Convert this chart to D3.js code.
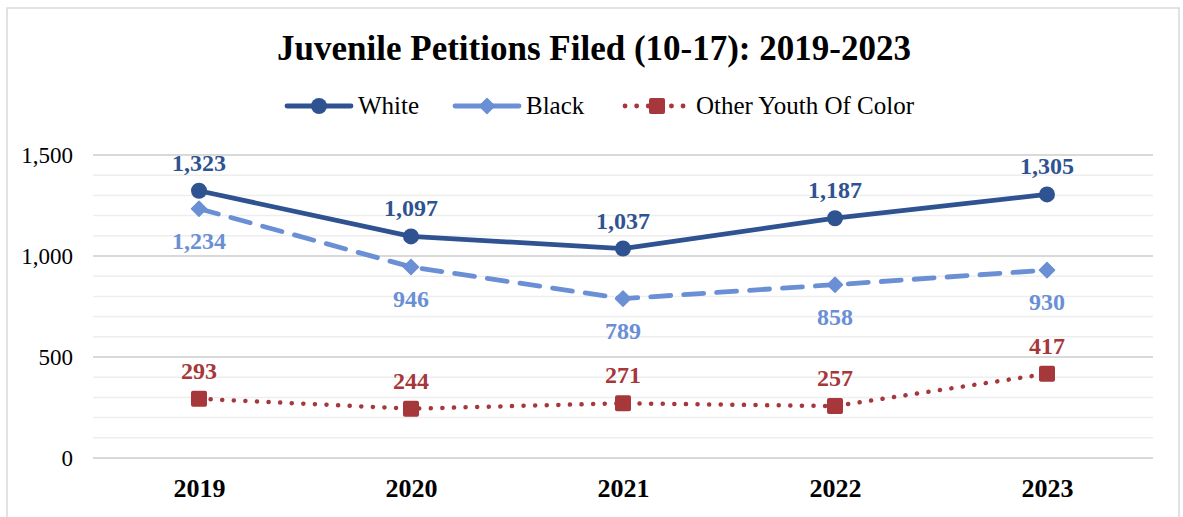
<!DOCTYPE html>
<html lang="en">
<head>
<meta charset="utf-8">
<title>Juvenile Petitions Filed</title>
<script src="https://cdn.jsdelivr.net/npm/d3@7"></script>
<style>
  body { margin: 0; background: #fff; }
  svg text { font-family: "Liberation Serif", "Times New Roman", serif !important; }
</style>
</head>
<body>
<script>
// chart data
var years = ["2019", "2020", "2021", "2022", "2023"];
var whiteVals = [1323, 1097, 1037, 1187, 1305];
var blackVals = [1234, 946, 789, 858, 930];
var otherVals = [293, 244, 271, 257, 417];
var yTicks = [0, 500, 1000, 1500];

var W = 1183, H = 517;
var m = { left: 93, right: 1153, top: 155, bottom: 458 };
var serif = "'Liberation Serif', 'Times New Roman', serif";

var svg = d3.select("body").append("svg")
  .attr("width", W).attr("height", H);

// frame
svg.append("rect")
  .attr("x", 7).attr("y", 8).attr("width", 1172).attr("height", 512)
  .attr("fill", "#fff").attr("stroke", "#d9d9d9").attr("stroke-width", 1.5);

var x = d3.scalePoint().domain(years).range([m.left, m.right]).padding(0.5);
var y = d3.scaleLinear().domain([0, 1500]).range([m.bottom, m.top]);

// gridlines, minor every 100
svg.append("g").selectAll("line")
  .data(d3.range(0, 1501, 100))
  .join("line")
  .attr("x1", m.left).attr("x2", m.right)
  .attr("y1", d => y(d)).attr("y2", d => y(d))
  .attr("stroke", d => d % 500 === 0 ? "#d9d9d9" : "#eeeeee")
  .attr("stroke-width", d => d % 500 === 0 ? 1.8 : 1.5);

var fmt = d3.format(",");

// y axis labels
var yAxis = d3.axisLeft(y).tickValues(yTicks).tickFormat(fmt).tickSize(0).tickPadding(20);
svg.append("g")
  .attr("transform", "translate(" + m.left + ",0)")
  .call(yAxis)
  .attr("font-family", serif)
  .call(g => g.select(".domain").remove())
  .selectAll("text")
  .style("font-family", serif)
  .style("font-size", "23px")
  .attr("fill", "#000");

// x axis labels
var xAxis = d3.axisBottom(x).tickSize(0).tickPadding(21);
svg.append("g")
  .attr("transform", "translate(0," + m.bottom + ")")
  .call(xAxis)
  .attr("font-family", serif)
  .call(g => g.select(".domain").remove())
  .selectAll("text")
  .style("font-family", serif)
  .style("font-size", "26px")
  .style("font-weight", "bold")
  .attr("fill", "#000");

var series = [
  { name: "White", vals: whiteVals, color: "#2f5391", dash: null, marker: "circle", labelPos: "above" },
  { name: "Black", vals: blackVals, color: "#6a8fd5", dash: "20,13", marker: "diamond", labelPos: "below" },
  { name: "Other Youth Of Color", vals: otherVals, color: "#a6373a", dash: "0.1,11.5", marker: "square", labelPos: "above" }
];

var line = d3.line().x((d, i) => x(years[i])).y(d => y(d));

function drawMarker(g, type, color) {
  if (type === "circle") {
    g.append("circle").attr("r", 8).attr("fill", color);
  } else if (type === "diamond") {
    g.append("path").attr("d", "M0,-7.5L7.5,0L0,7.5L-7.5,0Z").attr("fill", color)
      .attr("stroke", color).attr("stroke-width", 1.5).attr("stroke-linejoin", "round");
  } else {
    g.append("rect").attr("x", -8).attr("y", -8).attr("width", 16).attr("height", 16)
      .attr("rx", 2).attr("fill", color);
  }
}

series.forEach(function(s) {
  svg.append("path")
    .datum(s.vals)
    .attr("d", line)
    .attr("fill", "none")
    .attr("stroke", s.color)
    .attr("stroke-width", s.marker === "square" ? 4.5 : 4.8)
    .attr("stroke-linecap", "round")
    .attr("stroke-linejoin", "round")
    .attr("stroke-dasharray", s.dash);

  s.vals.forEach(function(v, i) {
    var g = svg.append("g").attr("transform", "translate(" + x(years[i]) + "," + y(v) + ")");
    drawMarker(g, s.marker, s.color);
  });

  svg.append("g").selectAll("text")
    .data(s.vals)
    .join("text")
    .attr("x", (d, i) => x(years[i]))
    .attr("y", d => s.labelPos === "above" ? y(d) - 20 : y(d) + 40)
    .attr("text-anchor", "middle")
    .attr("fill", s.color)
    .style("font-family", serif)
    .style("font-size", "24px")
    .style("font-weight", "bold")
    .text(d => fmt(d));
});

// title
svg.append("text")
  .attr("x", 594).attr("y", 60)
  .attr("text-anchor", "middle")
  .style("font-family", serif)
  .style("font-size", "35px")
  .style("font-weight", "bold")
  .attr("fill", "#000")
  .text("Juvenile Petitions Filed (10-17): 2019-2023");

// legend
var legendX = [285, 453, 623];
series.forEach(function(s, i) {
  var lg = svg.append("g").attr("transform", "translate(" + legendX[i] + ",106)");
  lg.append("line")
    .attr("x1", 2).attr("x2", 66).attr("y1", 0).attr("y2", 0)
    .attr("stroke", s.color).attr("stroke-width", 4.8)
    .attr("stroke-linecap", "round")
    .attr("stroke-dasharray", s.marker === "square" ? "0.1,11.5" : null);
  var mk = lg.append("g").attr("transform", "translate(34,0)");
  drawMarker(mk, s.marker, s.color);
  lg.append("text")
    .attr("x", 73).attr("y", 8)
    .style("font-family", serif)
    .style("font-size", "25px")
    .attr("fill", "#000")
    .text(s.name);
});
</script>
</body>
</html>
